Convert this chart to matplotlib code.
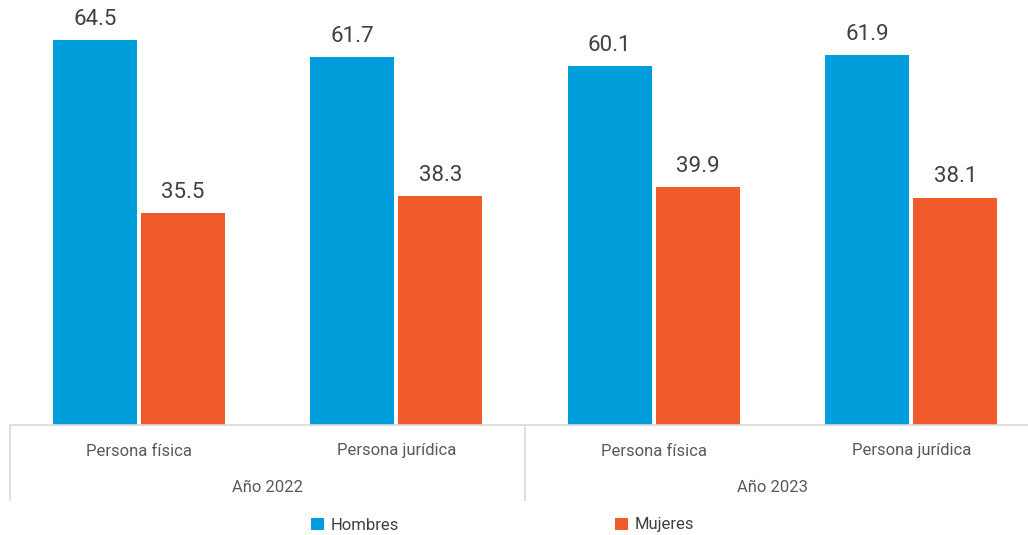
import matplotlib.pyplot as plt
import numpy as np

plt.rcParams['font.family'] = ['Roboto', 'DejaVu Sans']

categorias = ['Persona física', 'Persona jurídica', 'Persona física', 'Persona jurídica']
anios = ['Año 2022', 'Año 2023']
hombres = [64.5, 61.7, 60.1, 61.9]
mujeres = [35.5, 38.3, 39.9, 38.1]

azul = '#009FDB'
naranja = '#F15A2B'
gris = '#D9D9D9'

fig = plt.figure(figsize=(10.28, 5.35), dpi=100)
# axes: left edge at 10 px, baseline at 425 px from top
ax = fig.add_axes([10/1028, (535-425)/535, 1018/1028, 425/535])

x = np.arange(len(categorias))
w = 0.327
off = 0.171
b1 = ax.bar(x - off, hombres, w, color=azul, label='Hombres')
b2 = ax.bar(x + off, mujeres, w, color=naranja, label='Mujeres')

for bars in (b1, b2):
    for r in bars:
        ax.text(r.get_x() + r.get_width()/2, r.get_height() + 1.7, f'{r.get_height():.1f}',
                ha='center', va='bottom', fontsize=16, color='#404040')

ax.set_xlim(-0.5, 3.5 - 12/257.5)
ax.set_ylim(0, 425/5.97)

for s in ['top', 'right', 'left']:
    ax.spines[s].set_visible(False)
ax.spines['bottom'].set_color(gris)
ax.spines['bottom'].set_linewidth(1.2)
ax.set_yticks([])
ax.set_xticks([])

trans = ax.get_xaxis_transform()
txt = dict(transform=trans, ha='center', va='center', fontsize=12,
           color='#595959')
for i, c in enumerate(categorias):
    ax.text(i, -26/425, c, **txt)
ax.text(0.5, -63/425, anios[0], **txt)
ax.text(2.46, -63/425, anios[1], **txt)
for xs in (-0.5, 1.5):
    ax.plot([xs, xs], [0, -75/425], transform=trans, color=gris, lw=1.2, clip_on=False)

leg = fig.legend(handles=[b1, b2], loc='center', bbox_to_anchor=(0.489, 1 - 525/535),
                 ncol=2, frameon=False, fontsize=12, columnspacing=13,
                 handlelength=0.75, handleheight=0.75, handletextpad=0.4)
for t in leg.get_texts():
    t.set_color('#404040')

fig.savefig('out.png', dpi=100)
